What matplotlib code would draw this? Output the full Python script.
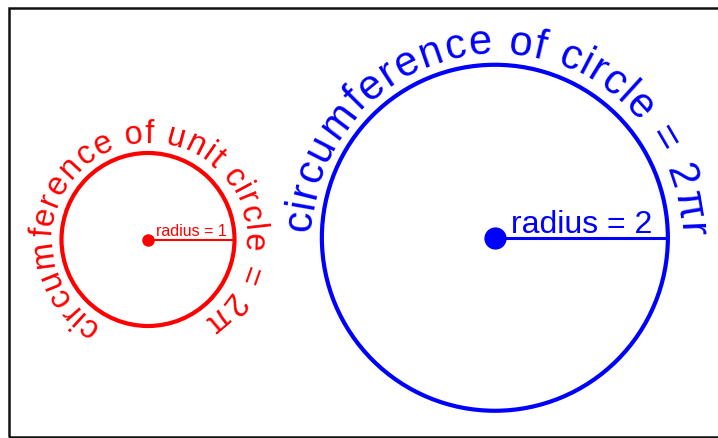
import numpy as np
import matplotlib.pyplot as plt
from matplotlib import font_manager, ft2font
from matplotlib.patches import Circle, Rectangle

FONT = "Liberation Sans"

# chart content
radii = [1, 2]
colors = ["#ff0000", "#0000ff"]
arc_texts = ["circumference of unit circle = 2π", "circumference of circle = 2πr"]
radius_labels = ["radius = 1", "radius = 2"]

# layout
centres = [(0.0, 0.0), (4.01, 0.02)]
arc_radius = [1.12, 2.13]
arc_angles = [(235, -50), (175, 2.5)]
arc_sizes = [23.5, 30]
label_sizes = [11.5, 23]
label_lift = [0.04, 0.06]
circle_lw = [3.0, 3.0]
spoke_lw = [1.5, 2.2]
dot_size = [8, 15]


def char_advances(text, size):
    fp = font_manager.FontProperties(family=FONT)
    font = ft2font.FT2Font(font_manager.findfont(fp))
    font.set_size(size, 72)
    return np.array([font.load_char(ord(c)).linearHoriAdvance / 65536 for c in text])


def curved_text(ax, cx, cy, r, text, start, end, size, color):
    adv = char_advances(text, size)
    mid = np.cumsum(adv) - adv / 2
    frac = (mid - mid[0]) / (mid[-1] - mid[0])
    angles = np.radians(start + (end - start) * frac)
    for ch, a in zip(text, angles):
        if ch == " ":
            continue
        ax.text(cx + r * np.cos(a), cy + r * np.sin(a), ch,
                rotation=np.degrees(a) - 90, rotation_mode="anchor",
                ha="center", va="baseline", fontsize=size,
                family=FONT, color=color)


fig = plt.figure(figsize=(7.18, 4.38), dpi=100)
ax = fig.add_axes([0, 0, 1, 1])
scale = 86.5
ax.set_xlim(-148 / scale, (718 - 148) / scale)
ax.set_ylim(-(438 - 239.5) / scale, 239.5 / scale)
ax.set_aspect("equal")
ax.axis("off")

for i, r in enumerate(radii):
    cx, cy = centres[i]
    col = colors[i]
    ax.add_patch(Circle((cx, cy), r, fill=False, edgecolor=col, lw=circle_lw[i]))
    ax.plot([cx, cx + r], [cy, cy], color=col, lw=spoke_lw[i], solid_capstyle="butt")
    ax.plot(cx, cy, "o", color=col, ms=dot_size[i])
    ax.text(cx + r / 2, cy + label_lift[i], radius_labels[i], ha="center",
            va="baseline", fontsize=label_sizes[i], family=FONT, color=col)
    curved_text(ax, cx, cy, arc_radius[i], arc_texts[i], *arc_angles[i],
                arc_sizes[i], col)

# outer frame (right edge runs off the picture)
fig.add_artist(Rectangle((9 / 718, 1 / 438), 1.0, 1 - 8.5 / 438,
                         transform=fig.transFigure, fill=False,
                         edgecolor="#111111", lw=1.8))

fig.savefig("out.png", dpi=100)
